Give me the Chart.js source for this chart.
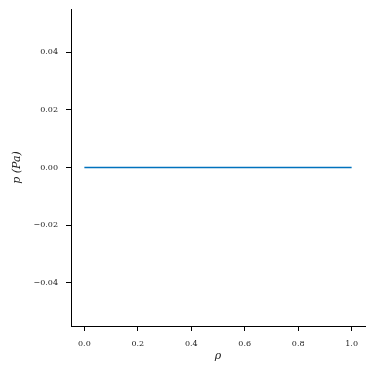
<!DOCTYPE html>
<html>
<head>
<meta charset="utf-8">
<script src="https://cdn.jsdelivr.net/npm/chart.js@4"></script>
<style>
  html, body { margin: 0; padding: 0; background: #fff; }
  #wrap { width: 374px; height: 374px; }
</style>
</head>
<body>
<div id="wrap"><canvas id="myChart" width="374" height="374"></canvas></div>
<script>
const ctx = document.getElementById('myChart').getContext('2d');

// données
const rho = [0.0, 0.2, 0.4, 0.6, 0.8, 1.0];
const pression = [0, 0, 0, 0, 0, 0];
const xTicks = [0.0, 0.2, 0.4, 0.6, 0.8, 1.0];
const yTicks = [-0.04, -0.02, 0.00, 0.02, 0.04];

const serif = "'DejaVu Serif', serif";
const fmt = (v, n) => (v < -1e-12 ? '\u2212' : '') + Math.abs(v).toFixed(n);

const axeCommun = {
    grid: { drawOnChartArea: false, drawTicks: true, tickLength: 5, color: '#000', tickColor: '#000' },
    border: { display: true, color: '#000', width: 1 }
};

const config = {
    type: 'scatter',
    data: {
        datasets: [{
            data: rho.map((x, i) => ({ x: x, y: pression[i] })),
            borderColor: '#0072BD',
            borderWidth: 1.5,
            showLine: true, pointRadius: 0, fill: false
        }]
    },
    options: {
        responsive: false,
        animation: false,
        layout: { padding: { left: 0, top: 9, right: 9, bottom: 0 } },
        plugins: { legend: { display: false }, tooltip: { enabled: false } },
        scales: {
            x: {
                ...axeCommun,
                type: 'linear',
                min: -0.05, max: 1.05,
                afterBuildTicks: s => { s.ticks = xTicks.map(v => ({ value: v })); },
                afterFit: s => { s.height = 48; s.paddingLeft = 0; s.paddingRight = 0; },
                ticks: {
                    font: { family: serif, size: 8 }, color: '#222', padding: 8,
                    callback: v => fmt(v, 1)
                },
                title: {
                    display: true, text: 'ρ', color: '#222',
                    font: { family: serif, size: 11, style: 'italic' },
                    padding: { top: 0, bottom: 11 }
                }
            },
            y: {
                ...axeCommun,
                type: 'linear',
                min: -0.055, max: 0.055,
                afterBuildTicks: s => { s.ticks = yTicks.map(v => ({ value: v })); },
                afterFit: s => { s.width = 71; s.paddingTop = 0; s.paddingBottom = 0; },
                ticks: {
                    font: { family: serif, size: 8 }, color: '#222', padding: 8,
                    callback: v => fmt(v, 2)
                },
                title: {
                    display: true, text: 'p (Pa)', color: '#222',
                    font: { family: serif, size: 11, style: 'italic' },
                    padding: { top: 11, bottom: 0 }
                }
            }
        }
    }
};

const myChart = new Chart(ctx, config);
</script>
</body>
</html>
